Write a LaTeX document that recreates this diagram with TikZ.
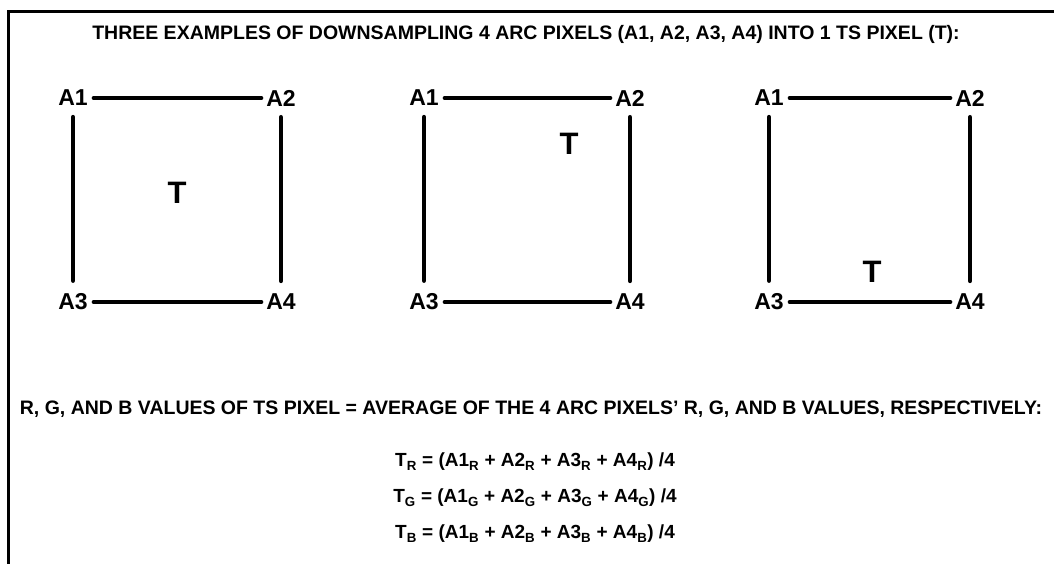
\documentclass[tikz,border=0pt]{standalone}
\usepackage{fontspec}
\setmainfont{Liberation Sans}
\usepackage{tikz}
\usetikzlibrary{positioning}
\tikzset{
  corner/.style={font=\bfseries\fontsize{23}{23}\selectfont, inner sep=1pt},
  tpix/.style={font=\bfseries\fontsize{31}{31}\selectfont, inner sep=0pt},
  side/.style={line width=4.5pt, line cap=round},
  caption/.style={font=\bfseries\fontsize{19.5}{19.5}\selectfont, inner sep=0pt},
  formula/.style={font=\bfseries\fontsize{19}{19}\selectfont, inner sep=0pt},
}

\begin{document}
\begin{tikzpicture}[x=1pt,y=-1pt]
  \useasboundingbox (0,0) rectangle (1054,564);
  % frame
  \draw[line width=3pt] (8,564) -- (8,12) -- (1054,12);
  \node[caption] (title) at (526,34) {THREE EXAMPLES OF DOWNSAMPLING 4 ARC PIXELS (A1, A2, A3, A4) INTO 1 TS PIXEL (T):};
  % the three pixel squares
  \foreach \n/\xl/\xr/\tx/\ty in {1/73/281/177/193, 2/424/630/569/144, 3/769/970/872/272} {
    \node[corner] (a1-\n) at (\xl,98) {A1};
    \node[corner] (a2-\n) at (\xr,98) {A2};
    \node[corner] (a3-\n) at (\xl,302) {A3};
    \node[corner] (a4-\n) at (\xr,302) {A4};
    \node[tpix] (t-\n) at (\tx,\ty) {T};
    \draw[side, shorten <=5pt, shorten >=4pt] (a1-\n) -- (a2-\n);
    \draw[side, shorten <=5pt, shorten >=4pt] (a3-\n) -- (a4-\n);
    \draw[side, shorten <=10pt, shorten >=12pt] (a1-\n) -- (a3-\n);
    \draw[side, shorten <=10pt, shorten >=12pt] (a2-\n) -- (a4-\n);
  }
  % averaging rule
  \node[caption] (rule) at (531,409) {R, G, AND B VALUES OF TS PIXEL = AVERAGE OF THE 4 ARC PIXELS' R, G, AND B VALUES, RESPECTIVELY:};
  \node[formula] (eqr) at (535,462) {T\textsubscript{R} = (A1\textsubscript{R} + A2\textsubscript{R} + A3\textsubscript{R} + A4\textsubscript{R}) /4};
  \node[formula] (eqg) at (535,498) {T\textsubscript{G} = (A1\textsubscript{G} + A2\textsubscript{G} + A3\textsubscript{G} + A4\textsubscript{G}) /4};
  \node[formula] (eqb) at (535,534) {T\textsubscript{B} = (A1\textsubscript{B} + A2\textsubscript{B} + A3\textsubscript{B} + A4\textsubscript{B}) /4};
\end{tikzpicture}
\end{document}
